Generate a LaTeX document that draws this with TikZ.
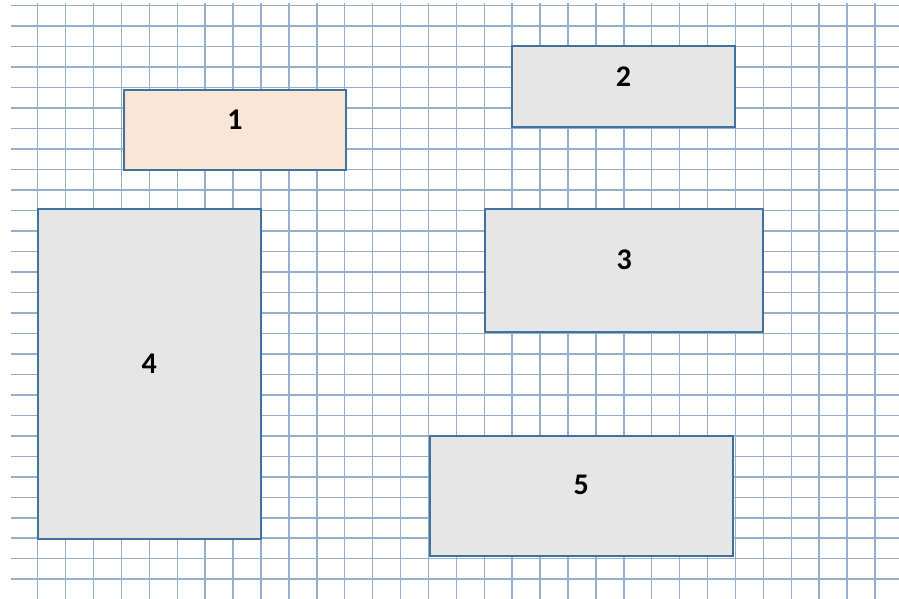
\documentclass[tikz,border=0pt]{standalone}
\usepackage{fontspec}
\setmainfont{Carlito}
\definecolor{gridline}{RGB}{148,174,205}
\definecolor{boxline}{RGB}{65,113,156}
\definecolor{boxgray}{RGB}{230,230,230}
\definecolor{boxpeach}{RGB}{251,229,214}
\begin{document}
\begin{tikzpicture}[x=1pt, y=-1pt,
    sheet/.style={draw=gridline, line width=1.5pt},
    box/.style={draw=boxline, line width=2pt, fill=boxgray, inner sep=0pt},
    num/.style={font=\bfseries\fontsize{30}{32}\selectfont, inner sep=0pt}]
  \useasboundingbox (0,0) rectangle (899,599);
  % squared paper
  \fill[white] (11,3) rectangle (899,599);
  \foreach \k in {0,...,30}
    \draw[sheet] (37.7+27.91*\k,3) -- (37.7+27.91*\k,599);
  \foreach \k in {0,...,28}
    \draw[sheet] (11,5.5+20.49*\k) -- (899,5.5+20.49*\k);
  % boxes
  \node[box, fill=boxpeach, minimum width=222pt, minimum height=80pt] (B1) at (235,130) {};
  \node[box, minimum width=223pt, minimum height=81pt] (B2) at (623.5,86.7) {};
  \node[box, minimum width=278pt, minimum height=123pt] (B3) at (624.3,270.3) {};
  \node[box, minimum width=223pt, minimum height=330pt] (B4) at (149.2,374) {};
  \node[box, minimum width=303pt, minimum height=120pt] (B5) at (581.3,495.8) {};
  % numbers
  \node[num] (N1) at ([yshift=10.5pt]B1.center) {1};
  \node[num] (N2) at ([yshift=10.5pt]B2.center) {2};
  \node[num] (N3) at ([yshift=10.5pt]B3.center) {3};
  \node[num] (N4) at ([yshift=10.5pt]B4.center) {4};
  \node[num] (N5) at ([yshift=10.5pt]B5.center) {5};
\end{tikzpicture}
\end{document}
